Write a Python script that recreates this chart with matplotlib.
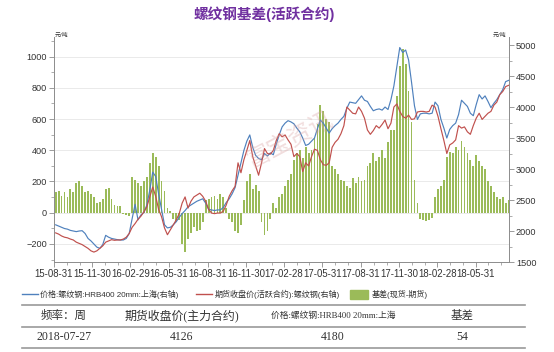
import matplotlib
matplotlib.use('Agg')
import matplotlib.pyplot as plt
from matplotlib.lines import Line2D
from matplotlib.patches import Rectangle
import pandas as pd

plt.rcParams['font.family'] = ['Liberation Sans', 'Noto Sans CJK SC']

# ---------------- data ----------------
dates = pd.date_range('2015-09-04', '2018-08-17', freq='W-FRI')

spot = [2100, 2080, 2060, 2040, 2030, 2010, 2000, 1990, 2000, 2005,
        1960, 1880, 1840, 1790, 1740, 1720, 1780, 1930, 1900, 1880,
        1870, 1860, 1855, 1855, 1880, 1960, 2200, 2430, 2180, 2260,
        2300, 2420, 2660, 2950, 2880, 2600, 2350, 2100, 2050, 2060,
        2100, 2150, 2220, 2280, 2330, 2390, 2420, 2450, 2480, 2500,
        2520, 2450, 2350, 2340, 2330, 2340, 2340, 2380, 2460, 2520,
        2600, 2700, 2900, 3100, 3300, 3450, 3550, 3350, 3220, 3170,
        3150, 3250, 3210, 3260, 3230, 3400, 3550, 3680, 3740, 3780,
        3760, 3730, 3660, 3600, 3500, 3380, 3400, 3450, 3500, 3650,
        3790, 3740, 3660, 3580, 3650, 3700, 3740, 3800, 3850, 3980,
        4080, 4070, 4060, 4120, 4180, 4110, 4090, 4010, 3940, 3960,
        3970, 3950, 4000, 3960, 4120, 4340, 4650, 4960, 4880, 4920,
        4760, 4400, 4020, 3800, 3890, 3900, 3900, 3890, 3900, 4080,
        4020, 3800, 3660, 3500, 3640, 3700, 3740, 3880, 4110, 4060,
        4010, 3900, 3860, 4040, 4200, 4130, 4180, 4090, 3990, 4060,
        4120, 4200, 4280, 4410, 4430]

futures = [1970, 1950, 1920, 1900, 1890, 1870, 1855, 1820, 1800, 1780,
           1750, 1720, 1680, 1660, 1680, 1720, 1760, 1820, 1840, 1860,
           1850, 1855, 1855, 1870, 1900, 1960, 2060, 2120, 2190, 2240,
           2310, 2390, 2550, 2710, 2560, 2350, 2230, 2050, 1940, 2020,
           2100, 2180, 2280, 2450, 2550, 2370, 2480, 2550, 2580, 2610,
           2560, 2480, 2350, 2290, 2280, 2290, 2290, 2320, 2420, 2560,
           2650, 2720, 3100, 2940, 3150, 3300, 3460, 3200, 3050, 2900,
           3100, 3330, 3250, 3240, 3300, 3460, 3570, 3520, 3550, 3470,
           3400, 3200, 3250, 3200, 2960, 3100, 3050, 3200, 3320, 3300,
           3150, 3070, 3060, 3100, 3350, 3430, 3480, 3570, 3700, 4000,
           3950, 3900, 3890, 4000, 3930, 3820, 3630, 3560, 3620, 3700,
           3660, 3720, 3790, 3650, 3740, 4000, 4050, 3930, 3850, 3820,
           3870, 3800, 3810, 3920, 3930, 3930, 3920, 3930, 4030, 4000,
           3850, 3650, 3460, 3250, 3390, 3420, 3470, 3700, 3660, 3680,
           3600, 3560, 3700, 3820, 3900, 3800, 3850, 3900, 3930, 4030,
           4080, 4200, 4250, 4330, 4350]

basis = [130, 140, 110, 130, 100, 150, 130, 190, 200, 170,
         130, 140, 120, 100, 60, 70, 90, 150, 160, 90,
         50, 45, 40, -10, -15, -20, 230, 210, 190, 170,
         200, 230, 320, 380, 360, 300, 200, 140, 30, 10,
         -40, -60, -50, -200, -250, -170, -130, -90, -120, -110,
         -60, 80, 90, 100, 110, 90, 120, 100, 30, -40,
         -60, -120, -130, -80, 80, 200, 250, 150, 180, 140,
         -60, -140, -120, -40, 60, 30, 100, 120, 170, 210,
         250, 340, 380, 400, 350, 420, 380, 400, 480, 570,
         690, 650, 600, 580, 300, 280, 250, 210, 200, 170,
         160, 220, 190, 230, 200, 210, 300, 320, 380, 330,
         360, 400, 350, 450, 530, 530, 750, 940, 1050, 950,
         780, 580, 210, 60, -40, -50, -55, -45, -35, 100,
         150, 170, 210, 360, 390, 380, 420, 400, 460, 420,
         380, 340, 300, 370, 330, 300, 280, 200, 170, 130,
         100, 90, 100, 60, 80]

tick_dates = ['2015-08-31', '2015-11-30', '2016-02-29', '2016-05-31',
              '2016-08-31', '2016-11-30', '2017-02-28', '2017-05-31',
              '2017-08-31', '2017-11-30', '2018-02-28', '2018-05-31']
tick_labels = ['15-08-31', '15-11-30', '16-02-29', '16-05-31', '16-08-31',
               '16-11-30', '17-02-28', '17-05-31', '17-08-31', '17-11-30',
               '18-02-28', '18-05-31']
left_ticks = [-200, 0, 200, 400, 600, 800, 1000]
right_ticks = [1500, 2000, 2500, 3000, 3500, 4000, 4500, 5000]

title = '螺纹钢基差(活跃合约)'
name_spot = '价格:螺纹钢:HRB400 20mm:上海(右轴)'
name_fut = '期货收盘价(活跃合约):螺纹钢(右轴)'
name_basis = '基差(现货-期货)'

table_header = ['频率：周', '期货收盘价(主力合约)', '价格:螺纹钢:HRB400 20mm:上海', '基差']
table_row = ['2018-07-27', '4126', '4180', '54']

# ---------------- figure ----------------
W, H = 554, 352
fig = plt.figure(figsize=(W / 100, H / 100), dpi=100)

def fx(x):
    return x / W

def fy(y):
    return 1 - y / H

ax_l, ax_r, ax_t, ax_b = 54, 509, 37, 262
ax = fig.add_axes([fx(ax_l), fy(ax_b), fx(ax_r) - fx(ax_l), fy(ax_t) - fy(ax_b)])
ax2 = ax.twinx()

BLUE = '#4F81BD'
RED = '#C0504D'
GREEN = '#9BBB59'
AXC = '#8c8c8c'
TXT = '#333333'

ax.bar(dates, basis, width=4.3, color=GREEN, zorder=2)
ax2.plot(dates, spot, color=BLUE, lw=0.85, zorder=3)
ax2.plot(dates, futures, color=RED, lw=0.85, zorder=3)

ax.set_xlim(pd.Timestamp('2015-08-31'), pd.Timestamp('2018-08-18'))
ax.set_ylim(-316, 1126)
ax2.set_ylim(1500, 5130)

ax.set_yticks(left_ticks)
ax.set_yticks(list(range(-300, 1101, 100)), minor=True)
ax2.set_yticks(right_ticks)
ax2.set_yticks(list(range(1500, 5001, 250)), minor=True)

ax.set_xticks(pd.to_datetime(tick_dates))
ax.set_xticklabels(tick_labels)
ax.set_xticks(pd.date_range('2015-08-31', '2018-07-31', freq='ME'), minor=True)

ax.grid(axis='y', which='major', color='#e6e6e6', lw=0.6, zorder=0)
ax.set_axisbelow(True)

for a in (ax, ax2):
    a.spines['top'].set_visible(False)
    for s in a.spines.values():
        s.set_color(AXC)
        s.set_linewidth(0.7)
    a.tick_params(which='major', direction='out', length=3.5, width=0.6,
                  color=AXC, labelsize=6.6, labelcolor=TXT, pad=1.5)
    a.tick_params(which='minor', direction='out', length=2.2, width=0.5, color=AXC)
ax.tick_params(axis='x', labelsize=6.95)
ax.spines['right'].set_visible(False)
ax2.spines['left'].set_visible(False)
ax2.spines['bottom'].set_visible(False)

# unit labels
fig.text(fx(55), fy(35), '元/吨', fontsize=4.3, color=TXT, ha='left', va='center')
fig.text(fx(506), fy(35), '元/吨', fontsize=4.3, color=TXT, ha='right', va='center')

# title
fig.text(fx(264), fy(14), title, fontsize=10.5, fontweight='bold',
         color='#7030A0', ha='center', va='center')

# watermark
fig.text(fx(290), fy(140), '富宝资讯', fontsize=17, color='#d9a0a0', alpha=0.35,
         rotation=28, ha='center', va='center')

# legend
ly = 294
fig.add_artist(Line2D([fx(22), fx(38)], [fy(ly), fy(ly)], color=BLUE, lw=1.0,
                      transform=fig.transFigure))
fig.text(fx(40), fy(ly), name_spot, fontsize=5.8, color=TXT, ha='left', va='center')
fig.add_artist(Line2D([fx(196), fx(212)], [fy(ly), fy(ly)], color=RED, lw=1.0,
                      transform=fig.transFigure))
fig.text(fx(215), fy(ly), name_fut, fontsize=5.8, color=TXT, ha='left', va='center')
fig.add_artist(Rectangle((fx(350), fy(ly + 4.5)), fx(18), 9 / H, color=GREEN,
                         transform=fig.transFigure))
fig.text(fx(372), fy(ly), name_basis, fontsize=5.8, color=TXT, ha='left', va='center')

# table
LINEC = '#9a9a9a'
for yy in (305, 327, 348):
    fig.add_artist(Line2D([fx(22), fx(525)], [fy(yy), fy(yy)], color=LINEC, lw=1.2,
                          transform=fig.transFigure))
col_x = [64, 182, 333, 462]
serif = ['Liberation Serif', 'Noto Sans CJK SC']
hsizes = [8.3, 8.6, 6.3, 8.3]
for cx, t, s in zip(col_x, table_header, hsizes):
    fig.text(fx(cx), fy(316), t, fontsize=s, color=TXT, ha='center', va='center',
             family=serif)
for cx, t in zip(col_x, table_row):
    fig.text(fx(cx), fy(337), t, fontsize=8.5, color=TXT, ha='center', va='center',
             family=serif)

fig.savefig('out.png', dpi=100)
